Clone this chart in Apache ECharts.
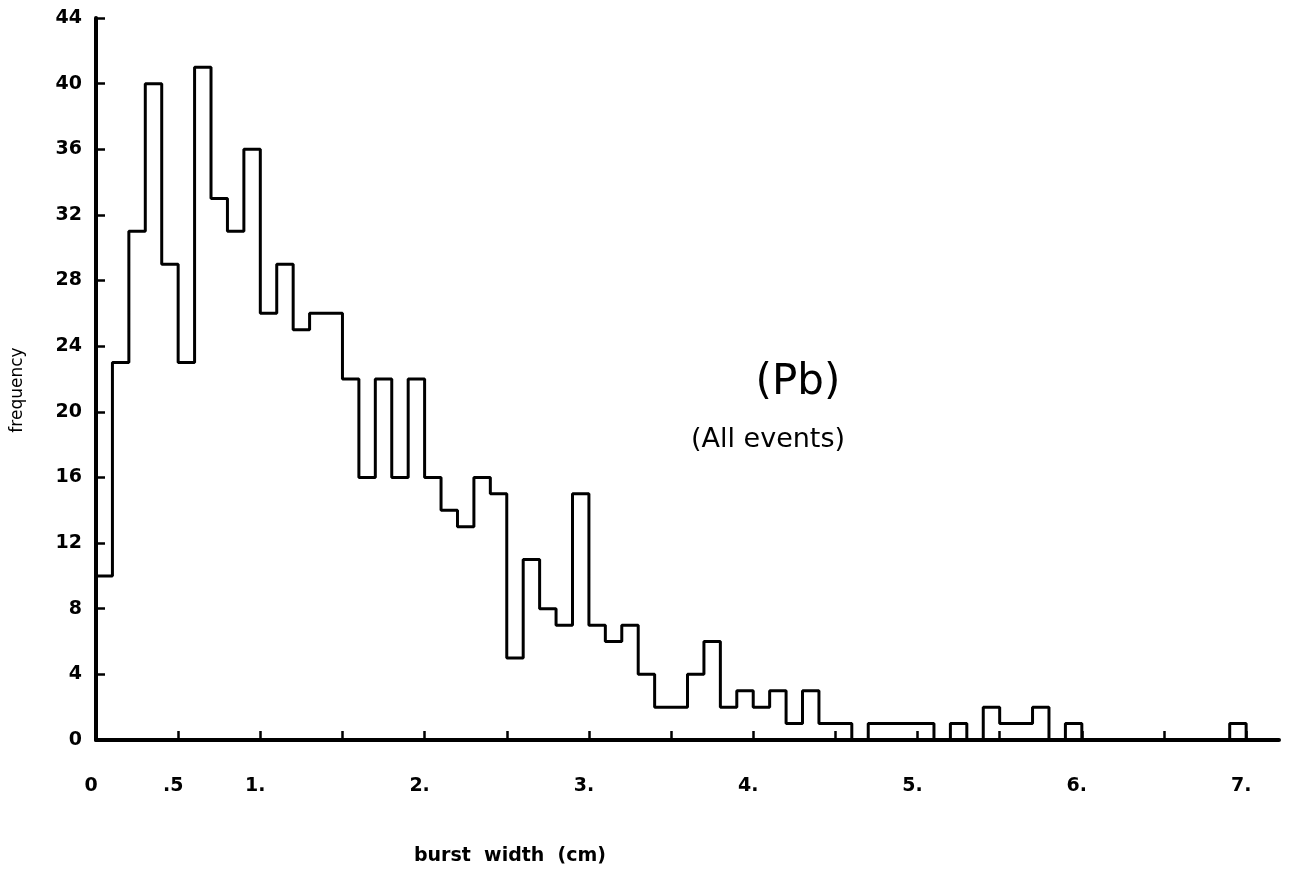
<!DOCTYPE html>
<html>
<head>
<meta charset="utf-8">
<script src="https://cdn.jsdelivr.net/npm/echarts@6/dist/echarts.min.js"></script>
<style>
  html, body { margin: 0; padding: 0; background: #ffffff; }
  #chart { width: 1292px; height: 872px; }
</style>
</head>
<body>
<div id="chart"></div>
<script>
// Histogram bins: burst width (cm), bin width 0.1 cm starting at 0
const binStart = 0;
const binWidth = 0.1;
const frequency = [
  10, 23, 31, 40, 29, 23, 41, 33, 31, 36,
  26, 29, 25, 26, 26, 22, 16, 22, 16, 22,
  16, 14, 13, 16, 15, 5, 11, 8, 7, 15,
  7, 6, 7, 4, 2, 2, 4, 6, 2, 3,
  2, 3, 1, 3, 1, 1, 0, 1, 1, 1,
  1, 0, 1, 0, 2, 1, 1, 2, 0, 1,
  0, 0, 0, 0, 0, 0, 0, 0, 0, 1
];
const xTickValues = [0, 0.5, 1, 1.5, 2, 2.5, 3, 3.5, 4, 4.5, 5, 5.5, 6, 6.5, 7];
const xLabelValues = [0, 0.5, 1, 2, 3, 4, 5, 6, 7];
const xLabelTexts = ['0', '.5', '1.', '2.', '3.', '4.', '5.', '6.', '7.'];
const yTicks = [0, 4, 8, 12, 16, 20, 24, 28, 32, 36, 40, 44];

// Build step outline points: (left edge, value); then close at the last right edge
const stepData = [[binStart, 0]];
frequency.forEach((v, i) => {
  stepData.push([+(binStart + i * binWidth).toFixed(2), v]);
});
stepData.push([+(binStart + frequency.length * binWidth).toFixed(2), 0]);

const chart = echarts.init(document.getElementById('chart'), null, { renderer: 'canvas' });
const labelFont = { fontFamily: 'DejaVu Sans', fontWeight: 'bold', fontSize: 19, color: '#000' };

chart.setOption({
  backgroundColor: '#ffffff',
  animation: false,
  grid: { left: 96, right: 13, top: 18, bottom: 132, containLabel: false },
  xAxis: {
    type: 'value',
    min: 0,
    max: 7.2,
    interval: 0.5,
    axisLine: { show: true, onZero: false, lineStyle: { color: '#000', width: 4 } },
    axisTick: { show: true, inside: true, length: 9, customValues: xTickValues,
                lineStyle: { color: '#000', width: 2.5 } },
    axisLabel: Object.assign({
      show: true, margin: 37, customValues: xLabelValues, padding: [0, 10, 0, 0],
      formatter: function (v) {
        const idx = xLabelValues.findIndex(x => Math.abs(x - v) < 1e-6);
        return idx >= 0 ? xLabelTexts[idx] : '';
      }
    }, labelFont),
    splitLine: { show: false }
  },
  yAxis: {
    type: 'value',
    min: 0,
    max: 44,
    interval: 4,
    axisLine: { show: true, onZero: false, lineStyle: { color: '#000', width: 4 } },
    axisTick: { show: true, inside: true, length: 9, customValues: yTicks,
                lineStyle: { color: '#000', width: 2.5 } },
    axisLabel: Object.assign({ show: true, margin: 14, customValues: yTicks }, labelFont),
    splitLine: { show: false }
  },
  series: [{
    type: 'line',
    step: 'end',
    symbol: 'none',
    data: stepData,
    lineStyle: { color: '#000', width: 3 },
    z: 3
  }],
  graphic: [
    { type: 'text', x: 798, y: 383, style: { text: '(Pb)', fill: '#000',
        font: 'normal 42px "DejaVu Sans"', textAlign: 'center', textVerticalAlign: 'middle' } },
    { type: 'text', x: 768, y: 440, style: { text: '(All events)', fill: '#000',
        font: 'normal 27px "DejaVu Sans"', textAlign: 'center', textVerticalAlign: 'middle' } },
    { type: 'text', x: 18, y: 390, rotation: Math.PI / 2, style: { text: 'frequency', fill: '#000',
        font: 'normal 17px "DejaVu Sans"', textAlign: 'center', textVerticalAlign: 'middle' } },
    { type: 'text', x: 510, y: 856, style: { text: 'burst  width  (cm)', fill: '#000',
        font: 'bold 19px "DejaVu Sans"', textAlign: 'center', textVerticalAlign: 'middle' } }
  ]
});
</script>
</body>
</html>
